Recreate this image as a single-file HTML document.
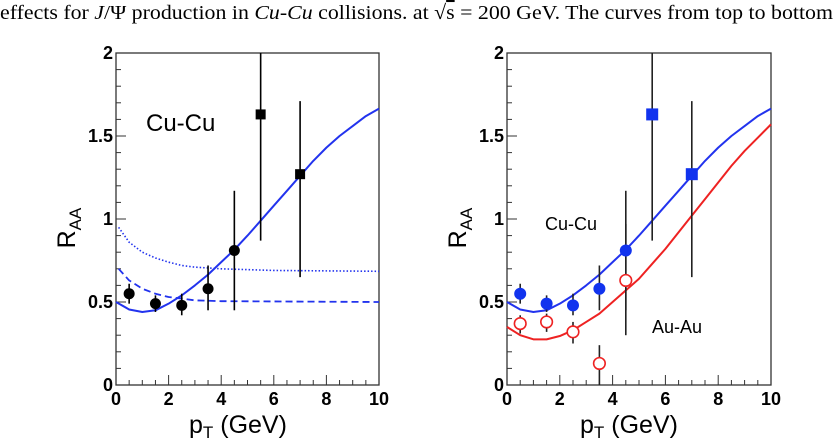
<!DOCTYPE html><html><head><meta charset="utf-8"><style>body{margin:0;background:#fff;width:835px;height:441px;overflow:hidden}svg{display:block}</style></head><body>
<svg id="s" width="835" height="441" xmlns="http://www.w3.org/2000/svg" font-family="Liberation Sans, sans-serif">
<text x="0" y="19" font-family="Liberation Serif, serif" font-size="20.5" fill="#000" textLength="833" lengthAdjust="spacingAndGlyphs">effects for <tspan font-style="italic">J</tspan>/Ψ production in <tspan font-style="italic">Cu-Cu</tspan> collisions. at √<tspan text-decoration="overline">s</tspan> = 200 GeV. The curves from top to bottom</text>
</svg>
<script>
var s=document.getElementById('s'),NS='http://www.w3.org/2000/svg';
function el(t,a,txt){var e=document.createElementNS(NS,t);for(var k in a)e.setAttribute(k,a[k]);if(txt)e.textContent=txt;s.appendChild(e);return e;}
var Y0=385,YS=166;
var blue=[[0,0.5],[0.5,0.455],[1,0.44],[1.5,0.45],[2,0.49],[2.5,0.54],[3,0.6],[3.5,0.665],[4,0.74],[4.5,0.815],[5,0.9],[5.5,0.99],[6,1.08],[6.5,1.17],[7,1.26],[7.5,1.35],[8,1.43],[8.5,1.5],[9,1.56],[9.5,1.62],[10,1.665]];
var red=[[0,0.35],[0.5,0.3],[1,0.275],[1.5,0.275],[2,0.295],[2.5,0.33],[3,0.38],[3.5,0.43],[4,0.5],[4.5,0.57],[5,0.64],[5.5,0.73],[6,0.82],[6.5,0.92],[7,1.02],[7.5,1.12],[8,1.22],[8.5,1.32],[9,1.41],[9.5,1.49],[10,1.57]];
var dot=[[0.1,0.95],[0.5,0.86],[1,0.8],[1.5,0.765],[2,0.74],[2.5,0.72],[3,0.71],[4,0.7],[6,0.69],[10,0.685]];
var dash=[[0.1,0.7],[0.5,0.63],[1,0.58],[1.5,0.55],[2,0.53],[3,0.51],[4,0.505],[10,0.5]];
function panel(X0,XS,P){
 var X=function(v){return X0+v*XS},Yf=function(v){return Y0-v*YS};
 function line(pts,c,w,da){el('polyline',{points:pts.map(function(p){return X(p[0])+','+Yf(p[1])}).join(' '),fill:'none',stroke:c,'stroke-width':w,'stroke-dasharray':da||'none','stroke-linejoin':'round'});}
 el('rect',{x:X0,y:53,width:XS*10,height:332,fill:'none',stroke:'#333','stroke-width':1.3});
 for(var i=0;i<=10;i+=0.5){var L=(i%2==0)?10:5;el('line',{x1:X(i),x2:X(i),y1:Y0,y2:Y0-L,stroke:'#333'});}
 for(i=0;i<=2.0001;i+=0.1){var L=(Math.round(i*10)%5==0)?10:5;el('line',{x1:X0,x2:X0+L,y1:Yf(i),y2:Yf(i),stroke:'#333'});}
 [0,2,4,6,8,10].forEach(function(v){el('text',{x:X(v),y:405,'text-anchor':'middle','font-size':18,'font-weight':'bold'},''+v)});
 [[0,'0'],[0.5,'0.5'],[1,'1'],[1.5,'1.5'],[2,'2']].forEach(function(a){el('text',{x:X0-3,y:Yf(a[0])+6,'text-anchor':'end','font-size':18,'font-weight':'bold'},a[1])});
 var t=el('text',{x:X0+73,y:433,'font-size':25});t.innerHTML='p<tspan font-size="17" dy="5">T</tspan><tspan dy="-5"> (GeV)</tspan>';
 var r=el('text',{transform:'translate('+(X0-41)+',228) rotate(-90)','font-size':25,'text-anchor':'middle'});r.innerHTML='R<tspan font-size="17" dy="6">AA</tspan>';
 P(X,Yf,line);
}
function eb(X,Y,x,lo,hi,c){el('line',{x1:X(x),x2:X(x),y1:Y(lo),y2:Y(hi),stroke:c||'#000','stroke-width':1.6});}
panel(116,26.3,function(X,Y,line){
 line(dot,'#2233ee',1.6,'1.5 2');line(dash,'#2233ee',1.8,'7 4');line(blue,'#2233ee',2);
 el('text',{x:146,y:131,'font-size':24},'Cu-Cu');
 [[0.5,0.55,0.49,0.61],[1.5,0.49,0.44,0.54],[2.5,0.48,0.42,0.55],[3.5,0.58,0.45,0.72],[4.5,0.81,0.45,1.17]].forEach(function(d){eb(X,Y,d[0],d[2],d[3]);el('circle',{cx:X(d[0]),cy:Y(d[1]),r:5.5,fill:'#000'})});
 [[5.5,1.63,0.87,2.0],[7,1.27,0.65,1.71]].forEach(function(d){eb(X,Y,d[0],d[2],d[3]);el('rect',{x:X(d[0])-5,y:Y(d[1])-5,width:10,height:10,fill:'#000'})});
});
panel(507,26.4,function(X,Y,line){
 line(blue,'#2233ee',2);line(red,'#ee2222',2);
 el('text',{x:545,y:230,'font-size':18},'Cu-Cu');el('text',{x:652,y:333,'font-size':18},'Au-Au');
 [[0.5,0.37,0.31,0.42],[1.5,0.38,0.32,0.43],[2.5,0.32,0.25,0.38],[3.5,0.13,0.0,0.24],[4.5,0.63,0.3,0.97]].forEach(function(d){eb(X,Y,d[0],d[2],d[3],'#222')});
 [[0.5,0.55,0.49,0.61],[1.5,0.49,0.44,0.54],[2.5,0.48,0.42,0.55],[3.5,0.58,0.45,0.72],[4.5,0.81,0.45,1.17]].forEach(function(d){eb(X,Y,d[0],d[2],d[3],'#222');el('circle',{cx:X(d[0]),cy:Y(d[1]),r:6,fill:'#1133ee'})});
 [[5.5,1.63,0.87,2.0],[7,1.27,0.65,1.71]].forEach(function(d){eb(X,Y,d[0],d[2],d[3],'#222');el('rect',{x:X(d[0])-6,y:Y(d[1])-6,width:12,height:12,fill:'#1133ee'})});
 [[0.5,0.37],[1.5,0.38],[2.5,0.32],[3.5,0.13],[4.5,0.63]].forEach(function(d){el('circle',{cx:X(d[0]),cy:Y(d[1]),r:5.8,fill:'#fff',stroke:'#ee2222','stroke-width':1.6})});
});
</script>
</body></html>
